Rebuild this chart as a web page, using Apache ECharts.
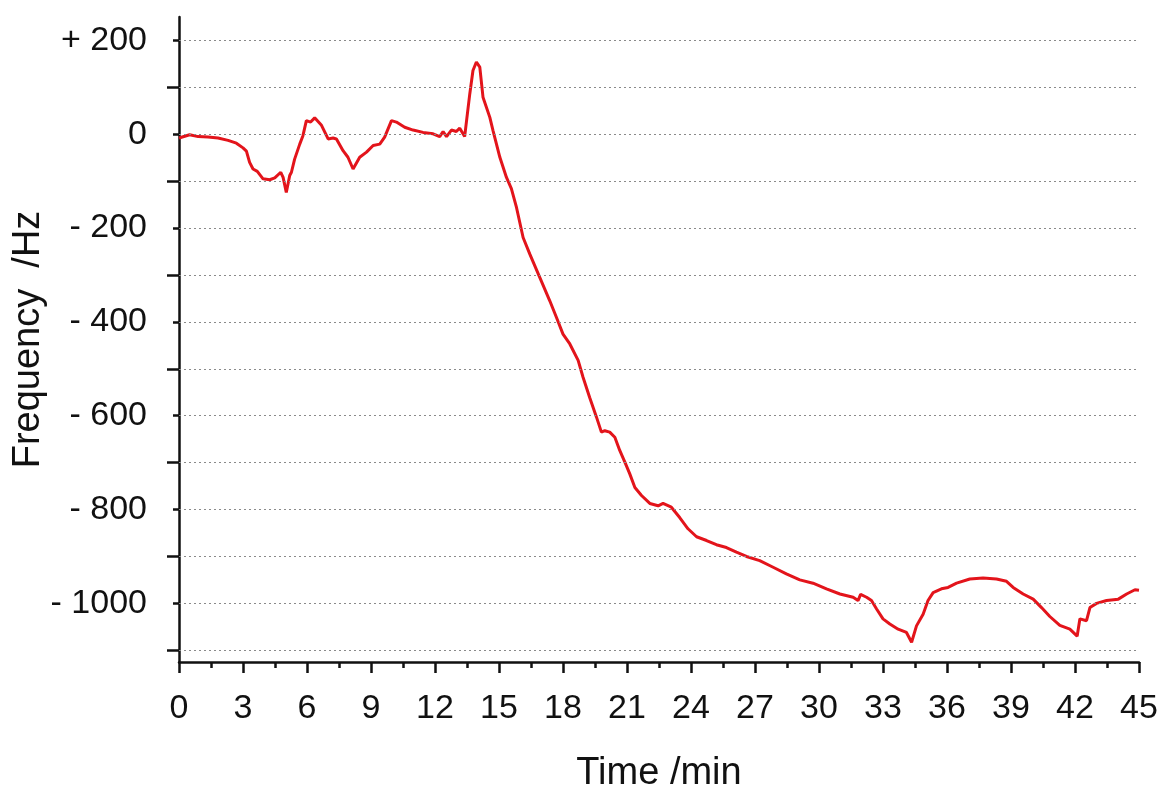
<!DOCTYPE html>
<html>
<head>
<meta charset="utf-8">
<script src="https://cdn.jsdelivr.net/npm/echarts@6/dist/echarts.min.js"></script>
<style>
html,body{margin:0;padding:0;background:#fff;}
#chart{width:1163px;height:789px;}
</style>
</head>
<body>
<div id="chart"></div>
<script>
// Time (min)
const times = [0,0.5,0.9,1.36,1.83,2.3,2.69,3.0,3.16,3.31,3.47,3.67,3.94,4.25,4.49,4.77,4.88,5.03,5.19,5.27,5.42,5.66,5.81,5.97,6.17,6.36,6.68,6.99,7.22,7.38,7.69,7.92,8.16,8.47,8.79,9.1,9.41,9.64,9.96,10.19,10.58,10.97,11.44,11.91,12.22,12.38,12.54,12.77,13.0,13.16,13.39,13.63,13.78,13.94,14.1,14.25,14.57,14.72,15.04,15.35,15.58,15.82,16.13,16.44,16.91,17.38,17.69,18.0,18.32,18.71,18.94,19.25,19.57,19.8,19.96,20.19,20.43,20.66,20.9,21.13,21.37,21.68,22.07,22.46,22.69,23.08,23.47,23.86,24.26,24.73,25.19,25.66,26.13,26.6,27.22,27.85,28.47,29.1,29.72,30.35,30.98,31.6,31.83,31.95,32.23,32.46,32.7,33.0,33.32,33.71,34.1,34.34,34.57,34.88,35.11,35.35,35.74,36.05,36.45,37.07,37.69,38.32,38.79,39.1,39.57,40.04,40.43,40.82,41.29,41.76,42.1,42.23,42.54,42.7,43.01,43.48,44.03,44.42,44.81,45.0];
// Frequency (Hz)
const freq = [-8,-1,-5,-6,-8,-13,-19,-29,-36,-60,-74,-79,-95,-97,-93,-81,-92,-124,-88,-81,-53,-21,-3,29,26,35,19,-10,-8,-10,-35,-49,-74,-49,-38,-24,-21,-6,29,26,15,9,4,1,-5,6,-5,9,6,13,-5,86,136,154,143,79,36,8,-49,-92,-116,-156,-220,-255,-305,-355,-390,-426,-447,-482,-518,-561,-603,-635,-632,-635,-646,-674,-699,-724,-753,-770,-787,-792,-787,-795,-817,-841,-858,-866,-875,-881,-891,-900,-909,-923,-937,-950,-957,-969,-980,-987,-994,-981,-987,-994,-1012,-1033,-1044,-1055,-1062,-1083,-1048,-1023,-994,-977,-969,-966,-957,-948,-946,-948,-953,-966,-980,-991,-1009,-1028,-1047,-1055,-1070,-1033,-1037,-1009,-1000,-994,-991,-980,-971,-972];
// Y axis: labelled ticks, unlabelled ticks, gridlines
const yLabelTicks = [200,0,-200,-400,-600,-800,-1000];
const yMinorTicks = [100,-100,-300,-500,-700,-900,-1100];
const yGrid = [200,100,0,-100,-200,-300,-400,-500,-600,-700,-800,-900,-1000,-1100];

const chart = echarts.init(document.getElementById('chart'));
const font = 'Liberation Sans, Arial, sans-serif';
const data = times.map((t,i)=>[t,freq[i]]);
chart.setOption({
  animation:false,
  backgroundColor:'#fff',
  grid:{left:179,right:24,top:17,bottom:127,containLabel:false,outerBoundsMode:'none'},
  xAxis:{
    type:'value',min:0,max:45,interval:3,
    name:'Time /min',nameLocation:'middle',nameGap:93,nameMoveOverlap:false,
    nameTextStyle:{fontFamily:font,fontSize:38,color:'#111'},
    axisLine:{show:true,onZero:false,lineStyle:{color:'#111',width:2.5}},
    axisTick:{show:true,length:11,lineStyle:{color:'#111',width:2.5}},
    minorTick:{show:true,splitNumber:2,length:6,lineStyle:{color:'#111',width:2.5}},
    axisLabel:{fontFamily:font,fontSize:34,color:'#111',margin:30},
    splitLine:{show:false}
  },
  yAxis:[{
    type:'value',min:-1125,max:250,
    name:'Frequency  /Hz',nameLocation:'middle',nameGap:131,nameRotate:90,nameMoveOverlap:false,
    nameTextStyle:{fontFamily:font,fontSize:38,color:'#111'},
    axisLine:{show:true,onZero:false,lineStyle:{color:'#111',width:2.5}},
    axisTick:{show:true,length:6,customValues:yLabelTicks,lineStyle:{color:'#111',width:2.5}},
    axisLabel:{fontFamily:font,fontSize:34,color:'#111',margin:32,customValues:yLabelTicks,
      formatter:v=> v>0 ? '+ '+v : (v<0 ? '- '+Math.abs(v) : '0')},
    splitLine:{show:false}
  },{
    type:'value',min:-1125,max:250,position:'left',
    axisLine:{show:false},
    axisTick:{show:true,length:12,customValues:yMinorTicks,lineStyle:{color:'#111',width:2.5}},
    axisLabel:{show:false},
    splitLine:{show:false}
  }],
  series:[{
    type:'line',data:[],yAxisIndex:0,silent:true,z:1,
    markLine:{silent:true,symbol:'none',label:{show:false},animation:false,
      lineStyle:{color:'#8a8a8a',type:[2,3],width:1.2},
      data:yGrid.map(v=>({yAxis:v}))}
  },{
    type:'line',data:data,yAxisIndex:0,showSymbol:false,smooth:false,z:3,
    lineStyle:{color:'#e3141b',width:3},itemStyle:{color:'#e3141b'}
  }]
});
</script>
</body>
</html>
